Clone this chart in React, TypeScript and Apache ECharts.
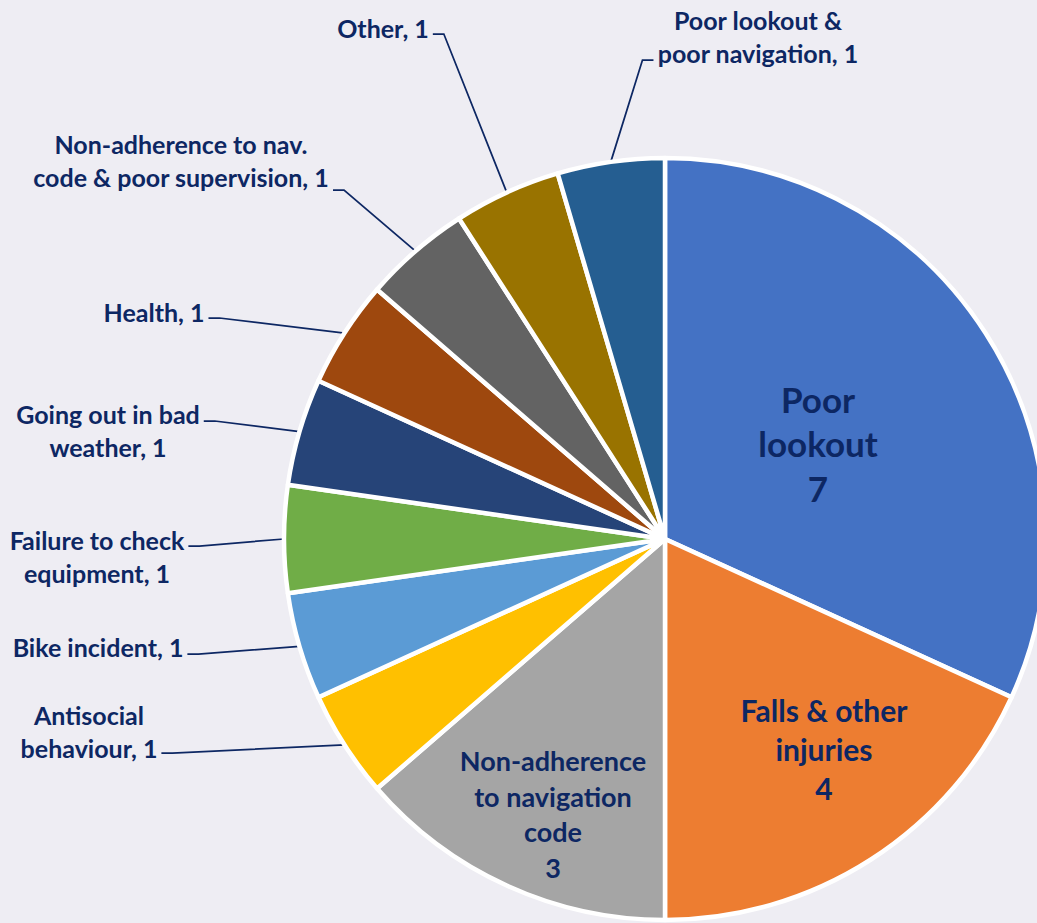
import React, { useEffect, useRef } from 'react';
import * as echarts from 'echarts';

const categories = [
  'Poor lookout',
  'Falls & other injuries',
  'Non-adherence to navigation code',
  'Antisocial behaviour',
  'Bike incident',
  'Failure to check equipment',
  'Going out in bad weather',
  'Health',
  'Non-adherence to nav. code & poor supervision',
  'Other',
  'Poor lookout & poor navigation',
];
const values = [7, 4, 3, 1, 1, 1, 1, 1, 1, 1, 1];
const labelNames = [
  'Poor\nlookout',
  'Falls & other\ninjuries',
  'Non-adherence\nto navigation\ncode',
  'Antisocial\nbehaviour',
  'Bike incident',
  'Failure to check\nequipment',
  'Going out in bad\nweather',
  'Health',
  'Non-adherence to nav.\ncode & poor supervision',
  'Other',
  'Poor lookout &\npoor navigation',
];
const insideLabel = [true, true, true, false, false, false, false, false, false, false, false];
const insideFontSize = [35, 30, 27];
const insideLineHeight = [44.5, 39, 35.5];
const colors = [
  '#4472C4', '#ED7D31', '#A5A5A5', '#FFC000', '#5B9BD5', '#70AD47',
  '#264478', '#9E480E', '#636363', '#997300', '#255E91',
];
// label centre x, centre y, leader attach offset from centre (y)
const labelPlacement: number[][] = [
  [818, 443, 0],
  [824, 749, 0],
  [553, 814, 0],
  [89, 731, 22],
  [98, 647, 7],
  [97, 556, -10],
  [108, 430, -9],
  [154, 312, 6],
  [181, 160, 30],
  [383, 28, 6],
  [758, 36, 24],
];

const PIE_CENTER = [665, 539];
const PIE_RADIUS = 381;
const TEXT_COLOR = '#0D2763';
const FONT = 'Lato, "Open Sans", sans-serif';

export default function App() {
  const ref = useRef<HTMLDivElement>(null);
  useEffect(() => {
    if (!ref.current) return;
    const chart = echarts.init(ref.current, undefined, { renderer: 'svg' });
    const total = values.reduce((a, b) => a + b, 0);
    const midAnchor = (i: number) => {
      let before = 0;
      for (let k = 0; k < i; k++) before += values[k];
      const ang = ((before + values[i] / 2) / total) * Math.PI * 2;
      return [PIE_CENTER[0] + PIE_RADIUS * Math.sin(ang), PIE_CENTER[1] - PIE_RADIUS * Math.cos(ang)];
    };
    const data = categories.map((name, i) => {
      const inside = insideLabel[i];
      return {
        name,
        value: values[i],
        itemStyle: { color: colors[i] },
        label: inside
          ? {
              position: 'inside',
              formatter: labelNames[i] + '\n' + values[i],
              fontSize: insideFontSize[i],
              lineHeight: insideLineHeight[i],
            }
          : {
              position: 'outside',
              formatter: labelNames[i] + ', ' + values[i],
              fontSize: 25,
              lineHeight: 33,
            },
        labelLine: { show: !inside },
      };
    });
    chart.setOption({
      animation: false,
      backgroundColor: '#EEEDF3',
      series: [
        {
          type: 'pie',
          center: PIE_CENTER,
          radius: PIE_RADIUS,
          startAngle: 90,
          clockwise: true,
          avoidLabelOverlap: false,
          silent: true,
          itemStyle: { borderColor: '#FFFFFF', borderWidth: 4.5 },
          label: {
            color: TEXT_COLOR,
            fontFamily: FONT,
            fontWeight: 'bold',
            align: 'center',
            overflow: 'none',
          },
          labelLine: {
            length: 10,
            length2: 10,
            lineStyle: { color: TEXT_COLOR, width: 1.75 },
          },
          labelLayout: (params: any) => {
            const i = params.dataIndex;
            const [lx, ly, dy] = labelPlacement[i];
            if (insideLabel[i]) {
              return { x: lx, y: ly, align: 'center', verticalAlign: 'middle' };
            }
            const w = params.labelRect.width;
            const leftSide = lx < PIE_CENTER[0];
            const ax = leftSide ? lx + w / 2 + 4 : lx - w / 2 - 4;
            const ay = ly + dy;
            const bx = leftSide ? ax + 11 : ax - 11;
            const anchor =
              params.labelLinePoints && params.labelLinePoints[0]
                ? params.labelLinePoints[0]
                : midAnchor(i);
            return {
              x: lx,
              y: ly,
              align: 'center',
              verticalAlign: 'middle',
              labelLinePoints: [anchor, [bx, ay], [ax, ay]],
            };
          },
          data,
        },
      ],
    });
    return () => chart.dispose();
  }, []);
  return (
    <div
      ref={ref}
      style={{ position: 'fixed', left: 0, top: 0, width: 1037, height: 923 }}
    />
  );
}
